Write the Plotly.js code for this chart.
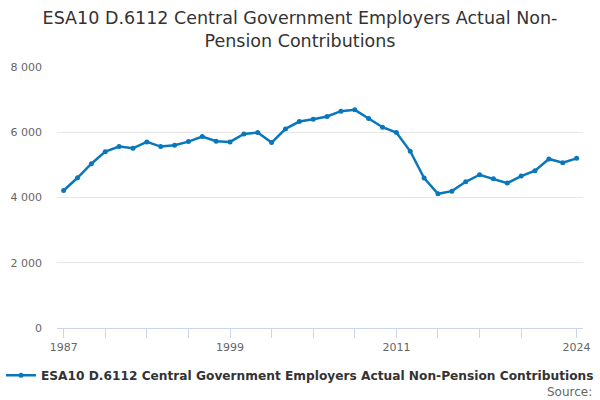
<!DOCTYPE html>
<html>
<head>
<meta charset="utf-8">
<script src="https://cdn.plot.ly/plotly-3.0.1.min.js"></script>
<style>
  html, body { margin: 0; padding: 0; background: #fff; }
  #chart { width: 600px; height: 400px; }
</style>
</head>
<body>
<div id="chart"></div>
<script>
// Values
const years = [1987, 1988, 1989, 1990, 1991, 1992, 1993, 1994, 1995, 1996,
               1997, 1998, 1999, 2000, 2001, 2002, 2003, 2004, 2005, 2006,
               2007, 2008, 2009, 2010, 2011, 2012, 2013, 2014, 2015, 2016,
               2017, 2018, 2019, 2020, 2021, 2022, 2023, 2024];
const contributions = [4215, 4605, 5036, 5406, 5560, 5508, 5703, 5560, 5600, 5713,
                       5867, 5724, 5703, 5949, 5990, 5682, 6103, 6328, 6400, 6482,
                       6646, 6687, 6421, 6154, 5990, 5416, 4595, 4113, 4195, 4482,
                       4698, 4575, 4441, 4657, 4821, 5180, 5067, 5200];
const xTickVals = [1987, 1990, 1993, 1996, 1999, 2002, 2005, 2008, 2011, 2014, 2017, 2020, 2024];
const xTickText = ['1987', '', '', '', '1999', '', '', '', '2011', '', '', '', '2024'];
const yTickVals = [0, 2000, 4000, 6000, 8000];

const seriesName = 'ESA10 D.6112 Central Government Employers Actual Non-Pension Contributions';
const lineColor = '#0a77bd';

const data = [{
    x: years,
    y: contributions,
    name: seriesName,
    type: 'scatter',
    mode: 'lines+markers',
    line: { color: lineColor, width: 2.5 },
    marker: { color: lineColor, size: 5 },
    showlegend: true,
}];

const layout = {
    width: 600,
    height: 400,
    paper_bgcolor: '#ffffff',
    plot_bgcolor: '#ffffff',
    separators: '. ',
    font: { family: 'DejaVu Sans, sans-serif', color: '#666666', size: 11 },
    title: {
        text: 'ESA10 D.6112 Central Government Employers Actual Non-<br>Pension Contributions',
        font: { family: 'DejaVu Sans, sans-serif', size: 17.5, color: '#333333' },
        x: 0.5,
        xanchor: 'center',
        xref: 'container',
        yref: 'container',
        y: 0.939,
        yanchor: 'middle',
    },
    margin: { l: 57, r: 17, t: 67, b: 72, pad: 0, autoexpand: false },
    xaxis: {
        range: [1986.52, 2024.46],
        tickmode: 'array',
        tickvals: xTickVals,
        ticktext: xTickText,
        ticks: 'outside',
        ticklen: 9,
        tickcolor: '#ccd6eb',
        tickwidth: 1,
        showgrid: false,
        showline: true,
        linecolor: '#ccd6eb',
        linewidth: 1,
        zeroline: false,
        tickfont: { size: 11, color: '#666666' },
    },
    yaxis: {
        range: [0, 8000],
        tickmode: 'array',
        tickvals: yTickVals,
        tickformat: ',d',
        showgrid: true,
        gridcolor: '#e6e6e6',
        gridwidth: 1,
        zeroline: false,
        showline: false,
        ticks: '',
        ticklabelstandoff: 14,
        tickfont: { size: 11, color: '#666666' },
    },
    legend: {
        orientation: 'h',
        xref: 'container',
        x: 0.5,
        xanchor: 'center',
        y: -0.125,
        yanchor: 'top',
        font: { family: 'DejaVu Sans, sans-serif', size: 12.2, color: '#333333', weight: 'bold' },
    },
    annotations: [{
        text: 'Source:',
        xref: 'paper',
        yref: 'paper',
        x: 1.02,
        y: -0.212,
        xanchor: 'right',
        yanchor: 'top',
        showarrow: false,
        font: { size: 12, color: '#666666' },
    }],
};

Plotly.newPlot('chart', data, layout, { displayModeBar: false, responsive: false });
</script>
</body>
</html>
